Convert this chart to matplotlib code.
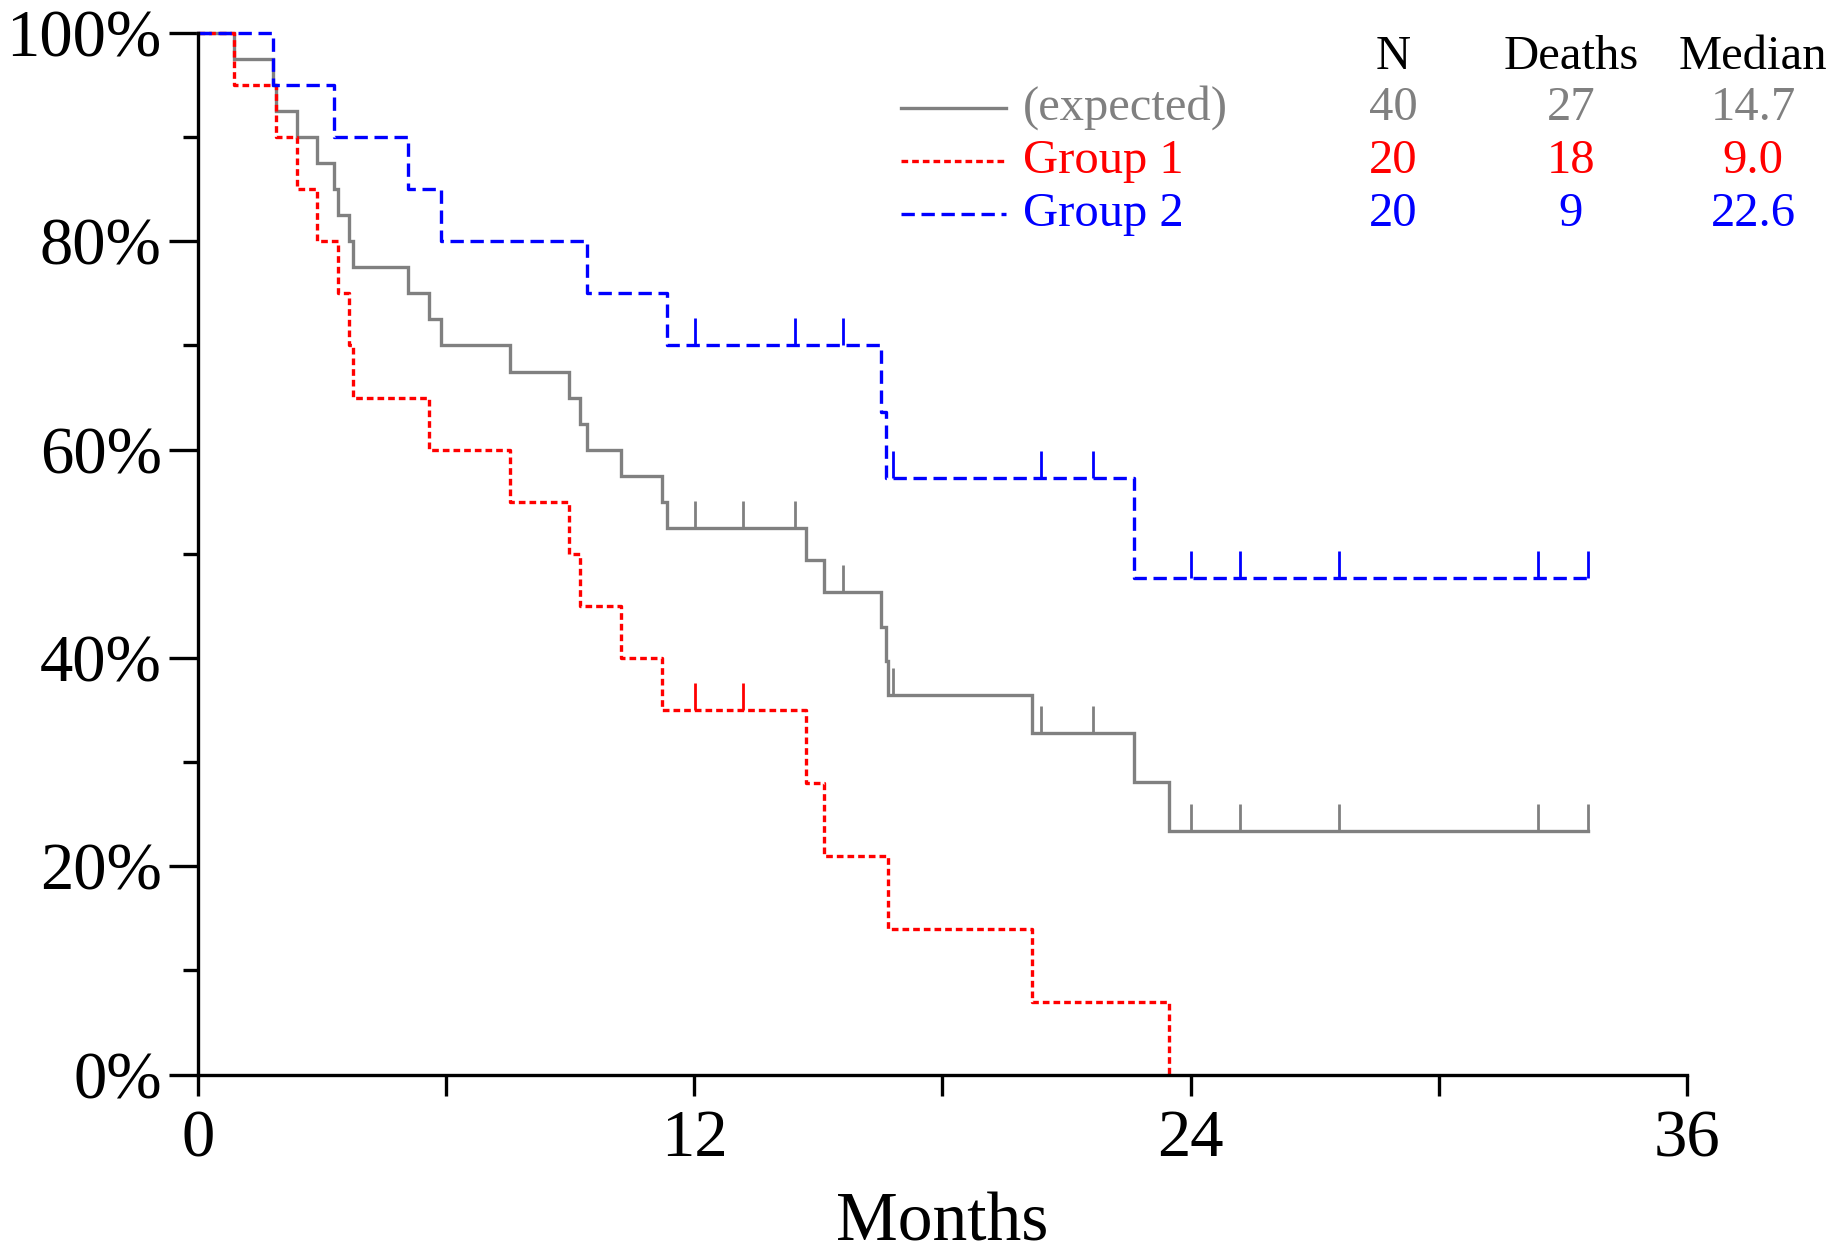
import numpy as np
import matplotlib
matplotlib.use("Agg")
import matplotlib.pyplot as plt
from matplotlib.ticker import FixedLocator

# Kaplan-Meier steps (months, survival %)
expected_times = [0, 0.88, 1.82, 1.88, 2.39, 2.88, 3.30, 3.39, 3.65, 3.76, 5.07,
                  5.58, 5.87, 7.55, 8.97, 9.23, 9.40, 10.22, 11.22, 11.34,
                  14.70, 15.15, 16.52, 16.63, 16.69, 20.17, 22.64, 23.47]
expected_surv = [100, 97.5, 95, 92.5, 90, 87.5, 85, 82.5, 80, 77.5, 75,
                 72.5, 70, 67.5, 65, 62.5, 60, 57.5, 55, 52.5,
                 49.4, 46.3, 43.0, 39.7, 36.4, 32.75, 28.1, 23.4]
expected_cens = [12.02, 13.19, 14.44, 15.61, 16.80, 20.39, 21.65,
                 24.01, 25.20, 27.60, 32.41, 33.60]

group1_times = [0, 0.88, 1.88, 2.39, 2.88, 3.39, 3.65, 3.76, 5.58, 7.55,
                8.97, 9.23, 10.22, 11.22, 14.70, 15.15, 16.69, 20.17, 23.47]
group1_surv = [100, 95, 90, 85, 80, 75, 70, 65, 60, 55,
               50, 45, 40, 35, 28, 21, 14, 7, 0]
group1_cens = [12.02, 13.19]

group2_times = [0, 1.82, 3.30, 5.07, 5.87, 9.40, 11.34, 16.52, 16.63, 22.64]
group2_surv = [100, 95, 90, 85, 80, 75, 70, 63.6, 57.3, 47.7]
group2_cens = [12.02, 14.44, 15.61, 16.80, 20.39, 21.65,
               24.01, 25.20, 27.60, 32.41, 33.60]

followup_end = 33.60

labels = ["(expected)", "Group 1", "Group 2"]
n_values = ["40", "20", "20"]
deaths = ["27", "18", "9"]
medians = ["14.7", "9.0", "22.6"]
colors = ["#808080", "#ff0000", "#0000ff"]

plt.rcParams["font.family"] = ["Liberation Serif", "DejaVu Serif"]

fig = plt.figure(figsize=(18.47, 12.56), dpi=100)
ax = fig.add_axes([0.1071, 0.1445, 0.8062, 0.8292])

lw = 2.4
styles = [
    dict(linestyle="-"),
    dict(linestyle=(0, (2.0, 1.2))),
    dict(linestyle=(0, (4.0, 2.0))),
]

curves = [
    (expected_times, expected_surv, expected_cens, True),
    (group1_times, group1_surv, group1_cens, False),
    (group2_times, group2_surv, group2_cens, True),
]

for (t, s, cens, extend), color, style in zip(curves, colors, styles):
    t = list(t)
    s = list(s)
    if extend:
        t.append(followup_end)
        s.append(s[-1])
    ax.step(t, s, where="post", color=color, lw=lw, clip_on=False,
            solid_joinstyle="miter", **style)
    # censor marks sit on the curve level at each censor time
    idx = np.searchsorted(t, cens, side="right") - 1
    levels = np.array(s)[idx]
    ax.vlines(cens, levels, levels + 2.6, color=color, lw=2.0)

ax.set_xlim(0, 36)
ax.set_ylim(0, 100)
for side in ["top", "right"]:
    ax.spines[side].set_visible(False)
for side in ["left", "bottom"]:
    ax.spines[side].set_linewidth(2.4)

ax.xaxis.set_major_locator(FixedLocator([0, 12, 24, 36]))
ax.xaxis.set_minor_locator(FixedLocator([6, 18, 30]))
ax.yaxis.set_major_locator(FixedLocator([0, 20, 40, 60, 80, 100]))
ax.yaxis.set_minor_locator(FixedLocator([10, 30, 50, 70, 90]))
ax.set_yticklabels([f"{v}%" for v in [0, 20, 40, 60, 80, 100]])

ax.tick_params(axis="y", which="major", length=21, width=2.4, pad=5, labelsize=48)
ax.tick_params(axis="y", which="minor", length=11, width=2.4)
ax.tick_params(axis="x", which="major", length=15, width=2.4, pad=10, labelsize=48)
ax.tick_params(axis="x", which="minor", length=15, width=2.4)

ax.set_xlabel("Months", fontsize=50, labelpad=16)

# legend table in data coordinates
hdr_y = 97.7
row_y = [92.8, 87.7, 82.6]
col_x = [28.9, 33.2, 37.6]
for x, h in zip(col_x, ["N", "Deaths", "Median"]):
    ax.text(x, hdr_y, h, ha="center", va="center", fontsize=35, clip_on=False)
for y, lab, n, d, m, color, style in zip(row_y, labels, n_values, deaths,
                                         medians, colors, styles):
    ax.plot([17.0, 19.55], [y, y], color=color, lw=lw, clip_on=False, **style)
    ax.text(19.95, y, lab, ha="left", va="center", fontsize=35, color=color)
    for x, v in zip(col_x, [n, d, m]):
        ax.text(x, y, v, ha="center", va="center", fontsize=35, color=color,
                clip_on=False)

fig.savefig("out.png", dpi=100)
